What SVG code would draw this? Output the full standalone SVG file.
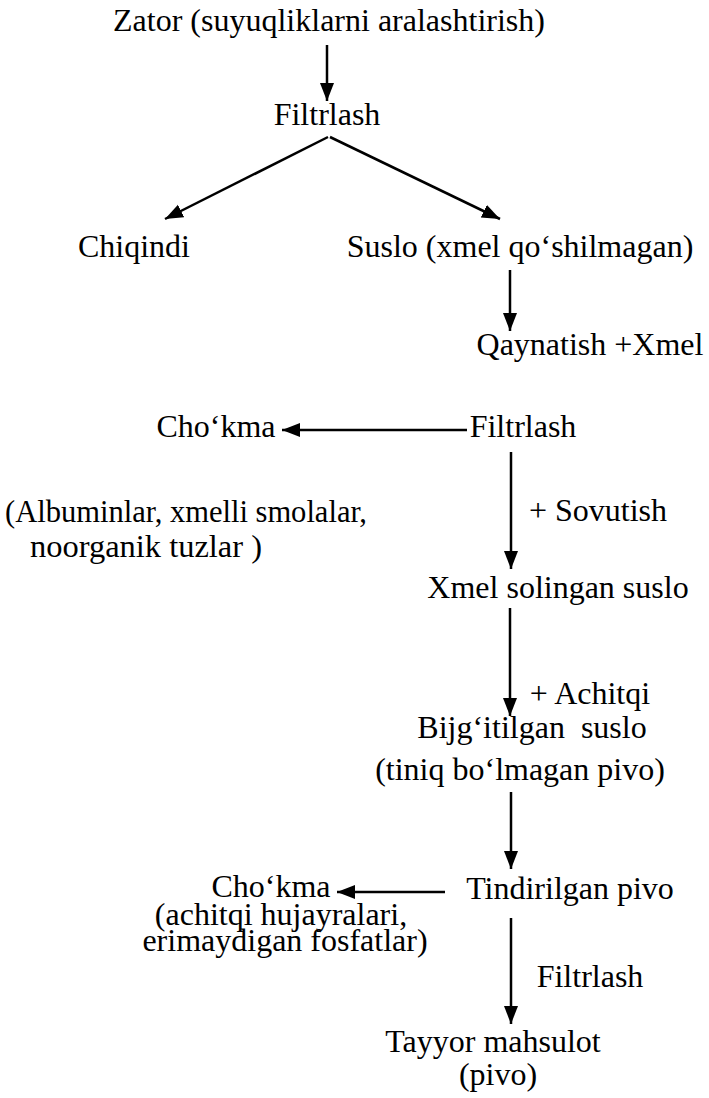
<svg xmlns="http://www.w3.org/2000/svg" width="709" height="1098" viewBox="0 0 709 1098">
<style>
text{font-family:"Liberation Serif","Times New Roman",serif;font-size:32px;fill:#000;text-anchor:middle}
text.s{text-anchor:start}
.c line{stroke:#000;stroke-width:2.5}
</style>
<defs>
<marker id="ah" markerUnits="userSpaceOnUse" markerWidth="20" markerHeight="16" refX="18" refY="7" orient="auto">
<path d="M0,0 L18,7 L0,14 Z" fill="#000"/>
</marker>
</defs>
<rect width="709" height="1098" fill="#fff"/>
<g class="c" id="connectors">
<line x1="327" y1="45" x2="327" y2="101" marker-end="url(#ah)"/>
<line x1="328" y1="137" x2="165" y2="219" marker-end="url(#ah)"/>
<line x1="330" y1="137" x2="500" y2="219" marker-end="url(#ah)"/>
<line x1="510" y1="270" x2="510" y2="331" marker-end="url(#ah)"/>
<line x1="467" y1="430" x2="282" y2="430" marker-end="url(#ah)"/>
<line x1="511" y1="452" x2="511" y2="569" marker-end="url(#ah)"/>
<line x1="510" y1="608" x2="510" y2="716" marker-end="url(#ah)"/>
<line x1="511" y1="792" x2="511" y2="869" marker-end="url(#ah)"/>
<line x1="445" y1="892" x2="337" y2="892" marker-end="url(#ah)"/>
<line x1="511" y1="918" x2="511" y2="1024" marker-end="url(#ah)"/>
</g>
<g id="n1"><text x="329" y="31">Zator (suyuqliklarni aralashtirish)</text></g>
<g id="n2"><text x="327" y="125">Filtrlash</text></g>
<g id="n3"><text x="134" y="257">Chiqindi</text></g>
<g id="n4"><text x="520" y="257">Suslo (xmel qo‘shilmagan)</text></g>
<g id="n5"><text x="590" y="355">Qaynatish +Xmel</text></g>
<g id="n6"><text x="216" y="437">Cho‘kma</text></g>
<g id="n7"><text x="523" y="437">Filtrlash</text></g>
<g id="n8"><text class="s" x="5" y="522" textLength="362" lengthAdjust="spacingAndGlyphs">(Albuminlar, xmelli smolalar,</text><text class="s" x="30" y="557" textLength="232" lengthAdjust="spacingAndGlyphs">noorganik tuzlar )</text></g>
<g id="l1"><text x="598" y="521">+ Sovutish</text></g>
<g id="n9"><text x="558" y="598">Xmel solingan suslo</text></g>
<g id="l2"><text x="590" y="704">+ Achitqi</text></g>
<g id="n10"><text x="532" y="738" xml:space="preserve">Bijg‘itilgan  suslo</text><text x="520" y="780">(tiniq bo‘lmagan pivo)</text></g>
<g id="n11"><text x="570" y="899">Tindirilgan pivo</text></g>
<g id="n12"><text x="271" y="897">Cho‘kma</text><text x="281" y="925">(achitqi hujayralari,</text><text x="285" y="951">erimaydigan fosfatlar)</text></g>
<g id="l3"><text x="590" y="987">Filtrlash</text></g>
<g id="n13"><text x="493" y="1052">Tayyor mahsulot</text><text x="498" y="1085">(pivo)</text></g>
</svg>
